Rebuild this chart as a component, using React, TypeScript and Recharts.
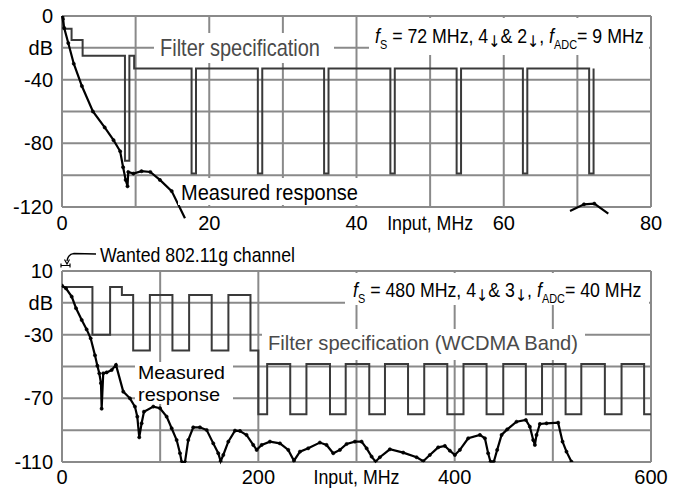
import React from 'react';
import { LineChart, Line, XAxis, YAxis, CartesianGrid } from 'recharts';

// upper panel (fs = 72 MHz)
const topSpecMHz = [0, 0.2, 1.3, 2.8, 8.55, 9.15, 9.8, 17.6, 18.2, 26.6, 27.2, 35.6, 36.2, 44.6, 45.2, 53.6, 54.2, 62.6, 63.2, 71.6, 72.2];
const topSpecDb = [0, -8, -15, -25, -91, -25, -33, -99, -33, -99, -33, -99, -33, -99, -33, -99, -33, -99, -33, -99, -33];

const topMeasMHz = [0, 0.1, 0.3, 0.85, 1.6, 2.7, 4.2, 5.8, 7.0, 7.9, 8.3, 8.65, 8.9, 9.0, 9.7, 10.8, 12.0, 13.3, 14.9, 16.7, 40, 69.0, 70.9, 72.3, 74.2];
const topMeasDb = [0, -2, -7.5, -17, -30, -44, -60, -70, -78, -85, -95, -103, -107, -98, -99, -97.5, -98, -103, -110, -127, null, -122.5, -118.3, -117.9, -124.2];

const topXTicks = [0, 10, 20, 30, 40, 50, 60, 70, 80];
const topXNames = ['0', '', '20', '', '40', 'Input, MHz', '60', '', '80'];
const topYTicks = [0, -20, -40, -60, -80, -100, -120];
const topYNames = ['0', 'dB', '-40', '', '-80', '', '-120'];

// lower panel (fs = 480 MHz)
const botSpecMHz = [0, 31, 49, 61, 72.5, 89.5, 112.5, 129.5, 152.5, 169.5, 192, 200, 209, 232.5, 249, 273, 289, 313, 329, 352.5, 369, 392.5, 409, 432.5, 449.5, 472.5, 489, 513, 529, 553, 570, 593, 600];
const botSpecDb = [0, -30, 0, -5, -40, -5, -40, -5, -40, -5, -40, -80, -48.5, -80, -48.5, -80, -48.5, -80, -48.5, -80, -48.5, -80, -48.5, -80, -48.5, -80, -48.5, -80, -48.5, -80, -48.5, -80, -80];

const botMeasMHz = [0, 4, 9.9, 14.3, 20.1, 25.1, 29.2, 33.6, 36, 38, 39.7, 40.4, 42, 45.5, 50.6, 55, 62.4, 69.2, 74.3, 76.7, 78.7, 81.1, 83.5, 93, 99.8, 106.6, 111.7, 116.8, 120.2, 121.9, 125.3, 128.6, 133.7, 140.5, 147.4, 154.1, 159.2, 161.6, 164.3, 169.4, 176.2, 181.3, 188, 194.8, 198.3, 203.4, 211.8, 222, 230.5, 236.3, 242.4, 250.8, 262.7, 269.5, 276.3, 283.1, 289.9, 298.4, 305.2, 310.3, 315.4, 319.4, 323.8, 334, 347.6, 361.2, 368, 374.7, 383.2, 390, 395.1, 400.2, 405.3, 413.8, 425.7, 430.8, 434.1, 436.5, 439.9, 443.3, 447.8, 453.5, 463, 472.5, 476.6, 480, 481.7, 483.4, 486.8, 493.6, 505.4, 509.9, 513.9, 519];
const botMeasDb = [0.8, -0.9, -6.1, -13.4, -20.8, -26.7, -32.3, -43, -49.5, -54.3, -60.5, -76.5, -54.3, -53.7, -52.2, -49, -65.8, -70, -75.2, -81.5, -94.5, -85.7, -78.4, -75.2, -76.2, -81.5, -88.8, -96.2, -104.5, -110, -110, -96.2, -88.2, -88.2, -89.9, -98.3, -104.5, -109.5, -105.6, -97.2, -90.3, -90.5, -93, -99.3, -102.4, -99.3, -97.2, -98.3, -102.4, -109.2, -103.5, -101.4, -97.8, -99.3, -104.5, -102.4, -98.7, -97.2, -97.2, -101.4, -106.6, -109.8, -107, -102, -104.1, -107, -109.5, -105.6, -100.8, -99.9, -102.9, -105.6, -102.4, -95.1, -93, -95.1, -104.5, -109.8, -109.8, -102.4, -93, -89.5, -84.7, -83.6, -87.8, -96.2, -99.3, -93, -86.1, -85.7, -85.3, -97.2, -103.5, -109.8];

const botXTicks = [0, 100, 200, 300, 400, 500, 600];
const botXNames = ['0', '', '200', 'Input, MHz', '400', '', '600'];
const botYTicks = [10, -10, -30, -50, -70, -90, -110];
const botYNames = ['10', 'dB', '-30', '', '-70', '', '-110'];

const zip = (xs: number[], ys: (number | null)[]) => xs.map((x, i) => ({ x, y: ys[i] }));

const FONT = "'Liberation Sans', Arial, Helvetica, sans-serif";
const GRID = '#8a8a8a';
const SPEC = '#3a3a3a';
const tickStyle = { fontSize: 20, fill: '#000', fontFamily: FONT };

const nameOf = (ticks: number[], names: string[]) => (v: number) => {
  const i = ticks.indexOf(v);
  return i >= 0 ? names[i] : '';
};

// x tick: the axis title sits among the numbers, drawn a bit narrower
const xTick = (ticks: number[], names: string[]) => (p: any) => {
  const label = nameOf(ticks, names)(p.payload.value);
  const long = label.length > 4;
  return (
    <text x={p.x} y={p.y} dy="0.71em" textAnchor="middle" fontSize={20} fill="#000" fontFamily={FONT}
      {...(long ? { textLength: 86, lengthAdjust: 'spacingAndGlyphs' } : {})}>
      {label}
    </text>
  );
};

const measDot = { r: 1.6, fill: '#000', stroke: '#000', strokeWidth: 0.6 };

function TopPanel() {
  return (
    <LineChart width={675} height={245} margin={{ top: 16, right: 24, bottom: 8, left: 0 }}>
      <CartesianGrid stroke={GRID} strokeWidth={2} />
      <XAxis type="number" dataKey="x" domain={[0, 80]} ticks={topXTicks} interval={0}
        axisLine={false} tickLine={false} tickSize={0} tickMargin={9} height={30}
        tick={xTick(topXTicks, topXNames)} allowDataOverflow />
      <YAxis type="number" domain={[-120, 0]} ticks={topYTicks} interval={0}
        tickFormatter={nameOf(topYTicks, topYNames)} axisLine={false} tickLine={false}
        tickSize={0} tickMargin={9} width={62} tick={tickStyle} allowDataOverflow />
      <Line data={zip(topSpecMHz, topSpecDb)} dataKey="y" type="stepAfter" stroke={SPEC}
        strokeWidth={2} dot={false} isAnimationActive={false} />
      <Line className="noclip" data={zip(topMeasMHz, topMeasDb)} dataKey="y" type="linear" stroke="#000"
        strokeWidth={2.2} dot={measDot} isAnimationActive={false} />
    </LineChart>
  );
}

function BottomPanel() {
  return (
    <LineChart width={675} height={245} margin={{ top: 26, right: 24, bottom: 0, left: 0 }}>
      <CartesianGrid stroke={GRID} strokeWidth={2} />
      <XAxis type="number" dataKey="x" domain={[0, 600]} ticks={botXTicks} interval={0}
        axisLine={false} tickLine={false} tickSize={0} tickMargin={8} height={28}
        tick={xTick(botXTicks, botXNames)} allowDataOverflow />
      <YAxis type="number" domain={[-110, 10]} ticks={botYTicks} interval={0}
        tickFormatter={nameOf(botYTicks, botYNames)} axisLine={false} tickLine={false}
        tickSize={0} tickMargin={9} width={62} tick={tickStyle} allowDataOverflow />
      <Line data={zip(botSpecMHz, botSpecDb)} dataKey="y" type="stepAfter" stroke={SPEC}
        strokeWidth={2} dot={false} isAnimationActive={false} />
      <Line className="noclip" data={zip(botMeasMHz, botMeasDb)} dataKey="y" type="linear" stroke="#000"
        strokeWidth={2.2} dot={measDot} isAnimationActive={false} />
    </LineChart>
  );
}

function Arrow() {
  return <tspan fontFamily="'DejaVu Sans', sans-serif" fontSize={16} dy={4}>↓</tspan>;
}

// sampling / decimation note, squeezed a little to fit the box
function RateNote({ x, y, sx, fs, m, n, adc }: { x: number; y: number; sx: number; fs: string; m: string; n: string; adc: string }) {
  return (
    <g transform={`translate(${x},${y}) scale(${sx},1)`}>
      <text x={0} y={0} fontSize={19.5} fill="#000">
        <tspan fontStyle="italic">f</tspan>
        <tspan fontSize={12} dy={6}>S</tspan>
        <tspan dy={-6}>{` = ${fs} MHz, ${m}`}</tspan>
        <Arrow />
        <tspan dy={-4}>{`& ${n}`}</tspan>
        <Arrow />
        <tspan dy={-4}>, </tspan>
        <tspan fontStyle="italic">f</tspan>
        <tspan fontSize={12} dy={6}>ADC</tspan>
        <tspan dy={-6}>{`= ${adc} MHz`}</tspan>
      </text>
    </g>
  );
}

function Overlay() {
  return (
    <svg width={675} height={490} style={{ position: 'absolute', left: 0, top: 0, pointerEvents: 'none' }}
      fontFamily={FONT}>
      {/* upper panel labels */}
      <rect x={154} y={33} width={180} height={30} fill="#fff" />
      <text x={160} y={56} fontSize={24} fill="#4a4a4a" textLength={160} lengthAdjust="spacingAndGlyphs">Filter specification</text>
      <rect x={369} y={18} width={280} height={37} fill="#fff" />
      <RateNote x={375} y={43} sx={0.91} fs="72" m="4" n="2" adc="9" />
      <rect x={178} y={178} width={184} height={27} fill="#fff" />
      <text x={181} y={200} fontSize={22} fill="#000" textLength={177} lengthAdjust="spacingAndGlyphs">Measured response</text>

      {/* lower panel labels */}
      <text x={100} y={262} fontSize={21} fill="#000" textLength={195} lengthAdjust="spacingAndGlyphs">Wanted 802.11g channel</text>
      <path d="M 96 254 L 74 253.5 Q 68 254 67 261" fill="none" stroke="#000" strokeWidth={1.3} />
      <path d="M 64.5 259.5 L 67 264 L 69.5 259.5" fill="none" stroke="#000" strokeWidth={1.2} />
      <path d="M 61 265.5 L 70 265.5 M 61 263.5 L 61 267.5 M 70 263.5 L 70 267.5" fill="none" stroke="#000" strokeWidth={1.2} />

      <rect x={345} y={273} width={304} height={32} fill="#fff" />
      <RateNote x={353} y={297} sx={0.91} fs="480" m="4" n="3" adc="40" />
      <rect x={262} y={329} width={323} height={31} fill="#fff" />
      <text x={268} y={350} fontSize={21} fill="#4a4a4a" textLength={310} lengthAdjust="spacingAndGlyphs">Filter specification (WCDMA Band)</text>
      <rect x={135} y={362} width={98} height={42} fill="#fff" />
      <text x={138} y={379} fontSize={19} fill="#000" textLength={87} lengthAdjust="spacingAndGlyphs">Measured</text>
      <text x={138} y={401} fontSize={19} fill="#000" textLength={82} lengthAdjust="spacingAndGlyphs">response</text>
    </svg>
  );
}

export default function App() {
  return (
    <div style={{ position: 'absolute', left: 0, top: 0, width: 675, height: 490, background: '#fff', fontFamily: FONT }}>
      <style>{'.noclip, .noclip * { clip-path: none !important; }'}</style>
      <div style={{ position: 'absolute', left: 0, top: 0 }}>
        <TopPanel />
      </div>
      <div style={{ position: 'absolute', left: 0, top: 245 }}>
        <BottomPanel />
      </div>
      <Overlay />
    </div>
  );
}
